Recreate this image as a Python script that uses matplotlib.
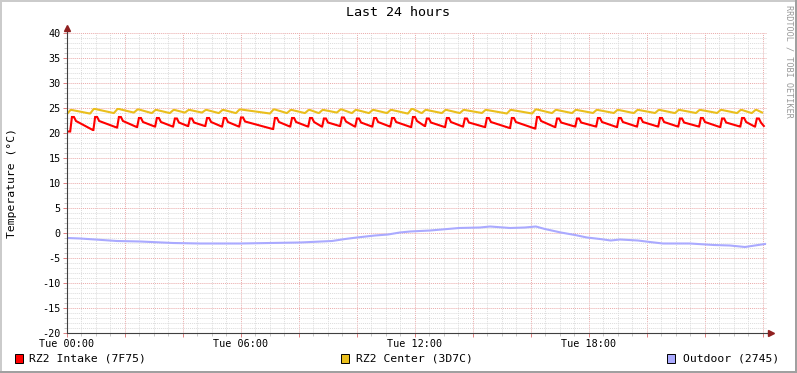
import numpy as np
import matplotlib
matplotlib.use("Agg")
import matplotlib.pyplot as plt
from matplotlib.patches import Rectangle

# ---- data (hours since Tue 00:00, degrees C) ----
title = "Last 24 hours"
x_tick_hours = [0, 6, 12, 18]
x_tick_labels = ["Tue 00:00", "Tue 06:00", "Tue 12:00", "Tue 18:00"]

# RZ2 Intake: sawtooth, peak times / peak values / low value reached before next peak
intake_peak_h = [0.17, 0.97, 1.79, 2.48, 3.10, 3.72, 4.24, 4.83, 5.41, 6.00,
                 7.17, 7.76, 8.38, 8.86, 9.48, 10.00, 10.59, 11.21, 11.93, 12.41,
                 13.10, 13.72, 14.48, 15.34, 16.21, 16.90, 17.59, 18.31, 19.03, 19.72,
                 20.45, 21.14, 21.86, 22.59, 23.28, 23.79]
intake_peak = [23.2, 23.2, 23.2, 23.0, 23.0, 22.9, 22.9, 23.0, 23.0, 23.1,
               23.0, 23.0, 23.0, 22.9, 23.1, 22.9, 23.0, 23.0, 23.2, 22.9,
               23.0, 22.9, 23.0, 23.0, 23.2, 22.9, 22.9, 23.0, 23.0, 23.0,
               23.0, 22.9, 23.0, 22.9, 23.0, 22.9]
intake_low = [20.6, 21.1, 21.2, 21.3, 21.3, 21.4, 21.4, 21.3, 21.3, 20.8,
              21.3, 21.3, 21.3, 21.4, 21.3, 21.3, 21.3, 21.2, 21.4, 21.2,
              21.3, 21.2, 21.0, 20.9, 21.2, 21.3, 21.3, 21.2, 21.3, 21.3,
              21.3, 21.3, 21.2, 21.3, 21.3, 21.4]
intake_start = 20.3

# RZ2 Center
center_peak = [24.6, 24.8, 24.8, 24.7, 24.6, 24.6, 24.6, 24.6, 24.6, 24.7,
               24.7, 24.6, 24.6, 24.6, 24.7, 24.6, 24.6, 24.6, 24.8, 24.6,
               24.6, 24.6, 24.6, 24.6, 24.7, 24.6, 24.6, 24.6, 24.6, 24.6,
               24.6, 24.6, 24.6, 24.6, 24.6, 24.6]
center_low = [23.9, 24.0, 24.1, 24.0, 24.0, 24.1, 24.1, 24.0, 24.0, 23.9,
              24.0, 24.0, 24.0, 24.1, 24.0, 24.0, 24.0, 23.9, 24.0, 24.0,
              24.0, 24.0, 23.9, 23.9, 24.0, 24.0, 24.0, 24.0, 24.0, 24.0,
              24.0, 24.0, 24.0, 24.0, 24.0, 24.1]
center_start = 23.8

# Outdoor
outdoor_h = [0.00, 0.45, 0.97, 1.72, 2.52, 3.66, 4.59, 5.97, 7.00, 8.03,
             9.14, 9.59, 10.00, 10.62, 11.07, 11.48, 11.83, 12.52, 13.52, 14.24,
             14.59, 15.28, 15.79, 16.17, 16.48, 17.03, 17.52, 17.93, 18.38, 18.75,
             19.07, 19.69, 20.10, 20.55, 21.48, 22.31, 22.86, 23.38, 23.72, 24.07]
outdoor = [-1.0, -1.1, -1.3, -1.6, -1.7, -2.0, -2.1, -2.1, -2.0, -1.9,
           -1.6, -1.2, -0.9, -0.5, -0.3, 0.1, 0.3, 0.5, 1.0, 1.1,
           1.3, 1.0, 1.1, 1.3, 0.8, 0.1, -0.4, -0.9, -1.2, -1.5,
           -1.3, -1.5, -1.8, -2.1, -2.1, -2.4, -2.5, -2.8, -2.5, -2.2]

legend_labels = ["RZ2 Intake (7F75)", "RZ2 Center (3D7C)", "Outdoor (2745)"]
colors = ["#ff0000", "#eabf1c", "#aaaaff"]

END_H = 24.14


def sawtooth(peak_h, peaks, lows, start, rise, hold, drop):
    """Build a rrdtool-like heating cycle path from read peaks/lows."""
    xs, ys = [0.0], [start]
    for i, t in enumerate(peak_h):
        xs += [t - rise, t, t + hold]
        ys += [ys[-1], peaks[i], peaks[i]]
        if drop is not None:
            xs.append(t + hold + 0.07)
            ys.append(peaks[i] - drop)
        nxt = peak_h[i + 1] if i + 1 < len(peak_h) else END_H - 0.03
        xs.append(nxt - rise - 0.02)
        ys.append(lows[i])
    return xs, ys


plt.rcParams['font.family'] = ['DejaVu Sans Mono']
plt.rcParams['axes.unicode_minus'] = False

W, H = 797, 373
fig = plt.figure(figsize=(W / 100, H / 100), dpi=100)
fig.patch.set_facecolor("#ffffff")

ax = fig.add_axes([67 / W, (H - 333) / H, 700 / W, 300 / H])
ax.set_facecolor("#ffffff")
ax.set_xlim(0, END_H)
ax.set_ylim(-20, 40)

# grid
ax.set_xticks(np.arange(0, 24.1, 2))
ax.set_xticks(np.arange(0, 24.2, 0.5), minor=True)
ax.set_xticklabels([x_tick_labels[x_tick_hours.index(h)] if h in x_tick_hours else ""
                    for h in np.arange(0, 24.1, 2)])
ax.set_yticks(np.arange(-20, 41, 5))
ax.set_yticks(np.arange(-20, 41, 1), minor=True)
ax.grid(which="minor", color="#dcdcdc", linestyle=(0, (1, 1)), linewidth=0.7)
ax.grid(which="major", color="#eaaaaa", linestyle=(0, (1, 1)), linewidth=0.7)
ax.set_axisbelow(True)
ax.tick_params(which="major", length=3, width=0.7, color="#e08080", labelsize=7.3,
               pad=1.5)
ax.tick_params(which="minor", length=2, width=0.7, color="#c8c8c8")
ax.tick_params(axis="y", which="both", direction="out")

for s in ["top", "right"]:
    ax.spines[s].set_visible(False)
for s in ["left", "bottom"]:
    ax.spines[s].set_color("#404040")
    ax.spines[s].set_linewidth(0.8)

# axis arrows
ax.plot([1.0, 1.005], [0, 0], color="#404040", lw=0.8, transform=ax.transAxes,
        clip_on=False)
ax.plot([1.006], [0], marker=">", ms=4, color="#902020", transform=ax.transAxes,
        clip_on=False)
ax.plot([0, 0], [1.0, 1.015], color="#404040", lw=0.8, transform=ax.transAxes,
        clip_on=False)
ax.plot([0], [1.017], marker="^", ms=4, color="#902020", transform=ax.transAxes,
        clip_on=False)

# series
ix, iy = sawtooth(intake_peak_h, intake_peak, intake_low, intake_start,
                  0.06, 0.07, 0.8)
ax.plot(ix, iy, color=colors[0], lw=1.5, solid_joinstyle="miter")
cx, cy = sawtooth([t - 0.05 for t in intake_peak_h], center_peak, center_low,
                  center_start, 0.12, 0.05, None)
ax.plot(cx, cy, color=colors[1], lw=1.5)
ax.plot(outdoor_h, outdoor, color=colors[2], lw=1.5)

# texts
fig.text(398 / W, 1 - 13 / H, title, ha="center", va="center", fontsize=9.6)
fig.text(12 / W, 1 - 183 / H, "Temperature (°C)", rotation=90, ha="center",
         va="center", fontsize=8.2)
fig.text(789 / W, 1 - 5 / H, "RRDTOOL / TOBI OETIKER", rotation=270, ha="center",
         va="top", fontsize=6.1, color="#999999")

# legend
sq_x = [15, 341, 667]
tx_x = [29, 356, 683]
for i in range(3):
    fig.patches.append(Rectangle((sq_x[i] / W, 1 - 363 / H), 8 / W, 9 / H,
                                 transform=fig.transFigure, facecolor=colors[i],
                                 edgecolor="#000000", lw=0.7))
    fig.text(tx_x[i] / W, 1 - 358.5 / H, legend_labels[i], ha="left",
             va="center", fontsize=8.2)

# 3d-ish frame
fig.patches.append(Rectangle((0, 0), 2 / W, 1, transform=fig.transFigure,
                             facecolor="#cbcbcb", lw=0))
fig.patches.append(Rectangle((0, 1 - 2 / H), 1, 2 / H, transform=fig.transFigure,
                             facecolor="#cbcbcb", lw=0))
fig.patches.append(Rectangle((1 - 2 / W, 0), 2 / W, 1, transform=fig.transFigure,
                             facecolor="#a0a0a0", lw=0))
fig.patches.append(Rectangle((0, 0), 1, 2 / H, transform=fig.transFigure,
                             facecolor="#a0a0a0", lw=0))

fig.savefig("out.png", dpi=100)
